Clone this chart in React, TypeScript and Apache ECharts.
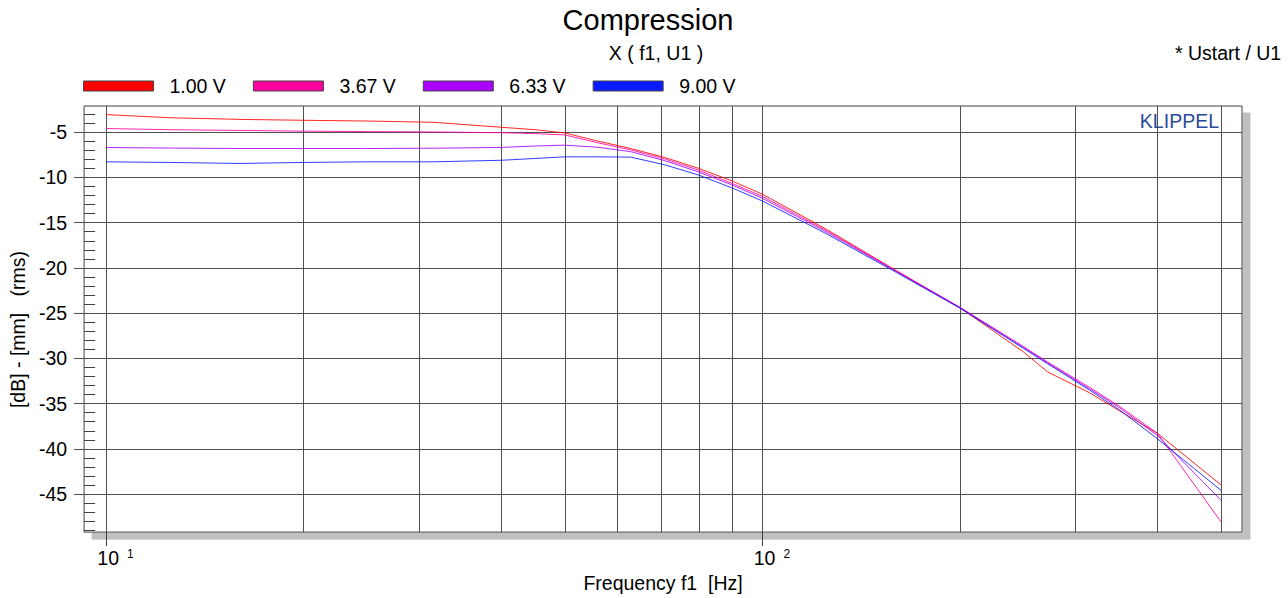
import { useEffect, useRef } from 'react';
import * as echarts from 'echarts';

// Excitation frequencies of the compression measurement (Hz)
const FREQ_HZ = [10, 12.5, 16, 20, 25, 31.5, 40, 45, 50, 56, 63, 71, 80, 90, 100, 125, 160, 200, 250, 272, 315, 350, 400, 500];

// X(f1, U1) in dB re 1 mm (rms), one list per drive voltage
const X_1_00V = [-3.05, -3.4, -3.58, -3.68, -3.76, -3.9, -4.45, -4.72, -5.08, -5.96, -6.8, -7.79, -9.0, -10.4, -11.85, -15.7, -20.3, -24.4, -29.3, -31.5, -33.8, -35.8, -38.3, -44.0];
const X_3_67V = [-4.59, -4.72, -4.8, -4.88, -4.93, -4.97, -5.05, -5.15, -5.3, -6.15, -6.95, -7.95, -9.2, -10.67, -12.1, -15.85, -20.35, -24.35, -28.7, -30.4, -33.2, -35.3, -38.3, -48.1];
const X_6_33V = [-6.69, -6.75, -6.8, -6.8, -6.8, -6.77, -6.68, -6.52, -6.43, -6.65, -7.15, -8.14, -9.4, -10.84, -12.3, -16.0, -20.4, -24.4, -28.8, -30.5, -33.35, -35.45, -38.55, -45.7];
const X_9_00V = [-8.27, -8.34, -8.45, -8.34, -8.27, -8.27, -8.1, -7.9, -7.72, -7.72, -7.75, -8.6, -9.74, -11.17, -12.6, -16.2, -20.5, -24.45, -28.9, -30.6, -33.5, -35.7, -38.9, -44.6];

const SERIES_NAMES = ['1.00 V', '3.67 V', '6.33 V', '9.00 V'];
const SERIES_VALUES = [X_1_00V, X_3_67V, X_6_33V, X_9_00V];
const SERIES_COLORS = ['#ff0000', '#ff00a0', '#aa00ff', '#0a1aff'];

// Axis ranges
const F_MIN = 9.258;
const F_MAX = 537.8;
const DB_MIN = -49.2;
const DB_MAX = -2.1;

// Grid lines and ticks
const GRID_FREQS = [10, 20, 30, 40, 50, 60, 70, 80, 90, 100, 200, 300, 400, 500];
const MAJOR_DB = [-45, -40, -35, -30, -25, -20, -15, -10, -5];
const MINOR_DB = [-49, -48, -47, -46, -44, -43, -42, -41, -39, -38, -37, -36, -34, -33, -32, -31, -29, -28, -27, -26, -24, -23, -22, -21, -19, -18, -17, -16, -14, -13, -12, -11, -9, -8, -7, -6, -4, -3];
const DECADE_EXPONENTS = [1, 2];

const FONT = '"Liberation Sans", Arial, Helvetica, sans-serif';
const FS = 19.5;
const INK = '#000000';
const GRID_INK = '#505050';

export default function App() {
  const ref = useRef<HTMLDivElement>(null);

  useEffect(() => {
    if (!ref.current) return;
    const chart = echarts.init(ref.current, undefined, { renderer: 'svg' });

    const curves = SERIES_NAMES.map((name, k) => ({
      name,
      type: 'line',
      xAxisIndex: 0,
      yAxisIndex: 0,
      data: FREQ_HZ.map((f, i) => [f, SERIES_VALUES[k][i]]),
      showSymbol: false,
      symbol: 'none',
      color: SERIES_COLORS[k],
      lineStyle: { color: SERIES_COLORS[k], width: 1, opacity: 0.85 },
      z: 5,
      silent: true,
    }));

    const gridLines = {
      name: 'grid',
      type: 'line',
      xAxisIndex: 0,
      yAxisIndex: 0,
      data: [],
      z: 1,
      silent: true,
      markLine: {
        silent: true,
        symbol: ['none', 'none'],
        label: { show: false },
        lineStyle: { color: GRID_INK, width: 1, type: 'solid' },
        emphasis: { disabled: true },
        data: [
          ...GRID_FREQS.map((f) => ({ xAxis: f })),
          ...MAJOR_DB.map((v) => ({ yAxis: v })),
        ],
      },
    };

    chart.setOption({
      animation: false,
      backgroundColor: '#ffffff',
      textStyle: { fontFamily: FONT },
      grid: {
        left: 83,
        top: 106,
        right: 46,
        bottom: 65,
        show: true,
        backgroundColor: '#ffffff',
        borderColor: '#404040',
        borderWidth: 1,
        shadowColor: '#c0c0c0',
        shadowBlur: 0,
        shadowOffsetX: 8,
        shadowOffsetY: 7,
      },
      legend: {
        data: SERIES_NAMES,
        left: 78,
        top: 71,
        icon: 'rect',
        itemWidth: 70,
        itemHeight: 10,
        itemGap: 27,
        itemStyle: { borderColor: '#444444', borderWidth: 1, opacity: 1 },
        textStyle: { fontFamily: FONT, fontSize: FS, color: INK, padding: [0, 0, 0, 11] },
        selectedMode: false,
      },
      xAxis: [
        {
          type: 'log',
          logBase: 10,
          min: F_MIN,
          max: F_MAX,
          axisLine: { show: false },
          axisTick: { show: false },
          axisLabel: { show: false },
          splitLine: { show: false },
          minorTick: { show: false },
          minorSplitLine: { show: false },
        },
        {
          type: 'value',
          position: 'bottom',
          min: Math.log10(F_MIN),
          max: Math.log10(F_MAX),
          axisLine: { show: false },
          splitLine: { show: false },
          axisTick: {
            show: true,
            inside: false,
            length: 14,
            customValues: DECADE_EXPONENTS,
            lineStyle: { color: '#404040', width: 1 },
          },
          axisLabel: {
            show: true,
            customValues: DECADE_EXPONENTS,
            margin: 16,
            formatter: (v: number) => `{b|10}{s|${v}}`,
            rich: {
              b: { fontFamily: FONT, fontSize: FS, color: INK, padding: [0, 0, 0, 19] },
              s: { fontFamily: FONT, fontSize: 12, color: INK, verticalAlign: 'top', padding: [0, 0, 0, 8] },
            },
          },
          name: 'Frequency f1  [Hz]',
          nameLocation: 'middle',
          nameGap: 40,
          nameTextStyle: { fontFamily: FONT, fontSize: FS, color: INK },
        },
      ],
      yAxis: [
        {
          type: 'value',
          min: DB_MIN,
          max: DB_MAX,
          axisLine: { show: false },
          splitLine: { show: false },
          axisTick: {
            show: true,
            inside: false,
            length: 10,
            customValues: MAJOR_DB,
            lineStyle: { color: GRID_INK, width: 1 },
          },
          axisLabel: {
            show: true,
            customValues: MAJOR_DB,
            margin: 17,
            fontFamily: FONT,
            fontSize: FS,
            color: INK,
            formatter: (v: number) => String(v),
          },
          name: '[dB] - [mm]   (rms)',
          nameLocation: 'middle',
          nameRotate: 90,
          nameGap: 54,
          nameTextStyle: { fontFamily: FONT, fontSize: FS, color: INK, padding: [0, 21, 0, 0] },
        },
        {
          type: 'value',
          position: 'left',
          min: DB_MIN,
          max: DB_MAX,
          axisLine: { show: false },
          splitLine: { show: false },
          axisLabel: { show: false },
          axisTick: {
            show: true,
            inside: true,
            length: 11,
            customValues: MINOR_DB,
            lineStyle: { color: '#404040', width: 1 },
          },
        },
      ],
      graphic: [
        {
          type: 'text',
          x: 648,
          y: 20,
          style: { text: 'Compression', font: `29px ${FONT}`, fill: INK, textAlign: 'center', textVerticalAlign: 'middle' },
        },
        {
          type: 'text',
          x: 656,
          y: 53,
          style: { text: 'X ( f1, U1 )', font: `${FS}px ${FONT}`, fill: INK, textAlign: 'center', textVerticalAlign: 'middle' },
        },
        {
          type: 'text',
          x: 1175,
          y: 53,
          style: { text: '* Ustart / U1', font: `${FS}px ${FONT}`, fill: INK, textAlign: 'left', textVerticalAlign: 'middle' },
        },
        {
          type: 'text',
          x: 1219,
          y: 121,
          z: 10,
          style: { text: 'KLIPPEL', font: `${FS}px ${FONT}`, fill: '#2b4a9b', textAlign: 'right', textVerticalAlign: 'middle' },
        },
      ],
      series: [gridLines, ...curves],
    });

    return () => chart.dispose();
  }, []);

  return (
    <div
      ref={ref}
      style={{ position: 'absolute', left: 0, top: 0, width: 1288, height: 598, background: '#ffffff' }}
    />
  );
}
